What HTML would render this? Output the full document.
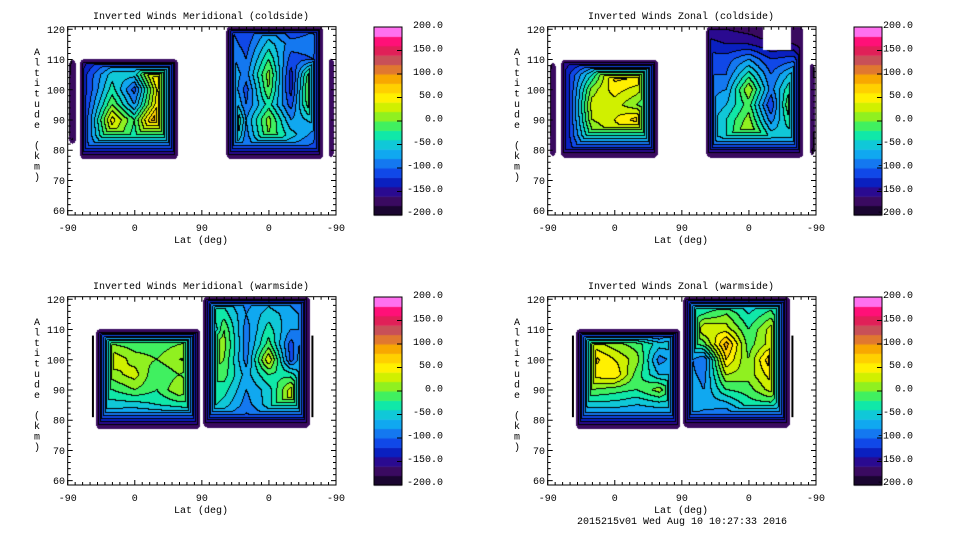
<!DOCTYPE html>
<html><head><meta charset="utf-8"><style>
html,body{margin:0;padding:0;background:#fff;}
#wrap{position:relative;width:960px;height:540px;overflow:hidden;}
canvas,svg{position:absolute;left:0;top:0;}
text{font-family:"Liberation Mono","DejaVu Sans Mono",monospace;fill:#000;}
</style></head><body>
<div id="wrap">
<canvas id="cv" width="960" height="540"></canvas>
<svg id="sv" width="960" height="540"></svg>
</div>
<script>
// ---- data ----
const titles = ["Inverted Winds Meridional (coldside)","Inverted Winds Zonal (coldside)","Inverted Winds Meridional (warmside)","Inverted Winds Zonal (warmside)"];
const gridLon = [0,30,60,90,120,150,180,210,240,270,300,330,360];
const gridAlt = [80,85,90,95,100,105,110,115,120];
const xTickLabels = ["-90","0","90","0","-90"];
const yTickLabels = ["120","110","100","90","80","70","60"];
const yTickValues = [120,110,100,90,80,70,60];
const cbLabels = ["200.0","150.0","100.0","50.0","0.0","-50.0","-100.0","-150.0","-200.0"];
const levels = [-200,-180,-160,-140,-120,-100,-80,-60,-40,-20,0,20,40,60,80,100,120,140,160,180,200];
const windColdMerid = [
[-140,-100,-70,-70,-60,-80,-90,-60,-100,-70,-100,-110,-180],
[-190,-90,20,-30,60,-10,-40,50,-90,0,-50,-90,-190],
[-190,-90,50,-20,110,0,-40,90,-80,10,-80,-50,-190],
[-190,-100,0,-80,50,10,-40,0,-100,-30,-110,20,-190],
[-190,-110,-30,-110,40,20,-40,-30,-110,0,-130,40,-190],
[-190,-110,-50,-50,70,-20,-50,-50,-90,10,-130,20,-190],
[-190,-140,-110,-110,-100,-90,-70,-60,-100,-20,-110,-100,-190],
[-190,-150,-150,-150,-150,-150,-90,-80,-110,-50,-90,-90,-190],
[-190,-150,-150,-150,-150,-150,-110,-90,-120,-80,-120,-100,-190]];
const windColdZonal = [
[-160,-130,-70,-40,-60,-60,-110,-110,-110,-70,-100,-110,-190],
[-190,-120,-10,30,10,-20,-40,-80,-40,30,-50,-50,-190],
[-190,-120,20,40,70,-20,40,-80,-40,10,-90,-10,-190],
[-190,-120,30,30,0,-50,30,-90,-60,-10,-120,30,-190],
[-190,-120,10,50,30,-10,40,-90,-80,20,-90,-10,-190],
[-190,-120,-40,70,70,50,-50,-100,-100,-30,-100,-50,-190],
[-190,-150,-140,-130,-130,-130,-110,-110,-110,-80,-120,-110,-190],
[-190,-180,-180,-180,-180,-180,-150,-130,-140,-140,-160,-160,-190],
[-190,-180,-180,-180,-180,-180,-150,-150,-160,-170,-180,-170,-190]];
const windWarmMerid = [
[-150,-110,-90,-100,-100,-100,-90,-90,-110,-90,-110,-110,-150],
[-150,-50,-50,-50,-40,-30,-20,-50,-90,-50,30,-90,-150],
[-150,-10,-20,0,-20,20,-20,-30,-80,-50,30,-110,-150],
[-150,30,10,30,-20,0,-20,-10,-70,-20,-30,-110,-150],
[-150,70,40,10,0,20,30,0,-90,40,-110,-10,-150],
[-150,30,0,-10,-10,0,30,10,-90,-10,-110,-30,-150],
[-150,-140,-140,-140,-140,-140,-140,0,-90,-30,-80,-80,-150],
[-150,-150,-150,-150,-150,-150,-20,-30,-80,-50,-70,-100,-150],
[-150,-150,-150,-150,-150,-150,-50,-50,-90,-70,-90,-120,-150]];
const windWarmZonal = [
[-150,-110,-100,-100,-100,-100,-90,-100,-110,-90,-100,-110,-150],
[-150,-60,-50,-50,-60,-50,-50,-70,-70,-30,-30,-100,-150],
[-150,10,0,-10,-20,10,-50,-80,-20,-10,30,-100,-150],
[-150,70,50,60,-10,-60,-60,-90,20,10,50,-100,-150],
[-150,120,70,40,10,-90,-60,-100,60,0,80,-100,-150],
[-150,40,30,10,-10,-50,-50,-10,90,-10,30,-90,-150],
[-150,-140,-140,-140,-140,-140,-40,40,30,-20,30,-90,-150],
[-150,-150,-150,-150,-150,-150,-50,-20,0,-40,-10,-90,-150],
[-150,-150,-150,-150,-150,-150,-60,-50,-50,-60,-50,-90,-150]];
const fields = [windColdMerid, windColdZonal, windWarmMerid, windWarmZonal];
const coverage = [
 [[2,11,82,110],[16.5,148,77,110.2],[213,343,77,121],[350,357,77.5,110.5]],
 [[3,11,78,109],[18,148,77.5,110],[213,343,77.5,121],[352,358,78,109]],
 [[38,178,77,110.2],[182,325,77.5,121]],
 [[38,178,77,110.2],[182,325,77.5,121]]];
const gaps = [[],[[289,327,113,121]],[],[]];
const colors = ["#1a0530","#3a0a60","#2a0a90","#0a20c0","#1048e8","#1478f0","#10a8f0","#10c8d8","#10e8a8","#40f060","#90f020","#d0f000","#fff000","#ffd000","#f8a800","#e07830","#c85058","#e02058","#ff1078","#ff70f0"];

// ---- geometry ----
const origins=[[0,0],[480,0],[0,270],[480,270]];
const PX0=67.7, PX1=336, PY0=26.7, PY1=215;
function xs(p){return PX0+p*(PX1-PX0)/360;}
function ys(a){return 29.3+(120-a)*3.023;}
function pInv(x){return (x-PX0)*360/(PX1-PX0);}
function aInv(y){return 120-(y-29.3)/3.023;}
function interp(g,p,a){
  let i=Math.max(0,Math.min(gridLon.length-2,Math.floor((p-gridLon[0])/(gridLon[1]-gridLon[0]))));
  let j=Math.max(0,Math.min(gridAlt.length-2,Math.floor((a-gridAlt[0])/(gridAlt[1]-gridAlt[0]))));
  let tx=(p-gridLon[i])/(gridLon[i+1]-gridLon[i]); tx=Math.max(0,Math.min(1,tx));
  let ty=(a-gridAlt[j])/(gridAlt[j+1]-gridAlt[j]); ty=Math.max(0,Math.min(1,ty));
  return g[j][i]*(1-tx)*(1-ty)+g[j][i+1]*tx*(1-ty)+g[j+1][i]*(1-tx)*ty+g[j+1][i+1]*tx*ty;
}
function ramp(d,w,s){return d<w?-170:-170+(d-w)*s;}
const cv=document.getElementById('cv'),ctx=cv.getContext('2d');
const img=ctx.createImageData(960,540),D=img.data;
for(let k=0;k<D.length;k+=4){D[k]=D[k+1]=D[k+2]=255;D[k+3]=255;}
function hex(c){return [parseInt(c.substr(1,2),16),parseInt(c.substr(3,2),16),parseInt(c.substr(5,2),16)];}
const rgb=colors.map(hex);
for(let n=0;n<4;n++){
  const [ox,oy]=origins[n];
  const x0=Math.ceil(PX0),x1=Math.floor(PX1),y0=Math.ceil(PY0),y1=Math.floor(PY1);
  const W=x1-x0+1,H=y1-y0+1;const band=new Int8Array(W*H).fill(-1);
  for(let yy=0;yy<H;yy++){for(let xx=0;xx<W;xx++){
    const x=x0+xx+0.5,y=y0+yy+0.5,p=pInv(x),a=aInv(y);
    let lim=null;
    for(const r of coverage[n]){
      if(p>=r[0]&&p<=r[1]&&a>=r[2]&&a<=r[3]){
        const dl=x-xs(r[0]),dr=xs(r[1])-x,dt=y-ys(r[3]),db=ys(r[2])-y;
        const cxd=Math.min(dl,dr),cyd=Math.min(dt,db),R=5;
        if(cxd<R&&cyd<R&&Math.hypot(R-cxd,R-cyd)>R)continue;
        const L=Math.min(ramp(dl,2,12),ramp(dr,2,12),ramp(dt,3,14),ramp(db,3,7));
        lim=lim===null?L:Math.max(lim,L);
      }
    }
    for(const r of gaps[n]){if(p>=r[0]&&p<=r[1]&&a>=r[2]&&a<=r[3])lim=null;}
    if(lim===null)continue;
    let v=Math.min(interp(fields[n],p,a),lim);
    let b=Math.floor((v-levels[0])/20);b=Math.max(0,Math.min(19,b));
    band[yy*W+xx]=b;
  }}
  for(let yy=0;yy<H;yy++){for(let xx=0;xx<W;xx++){
    const b=band[yy*W+xx];if(b<0)continue;
    let c=rgb[b];
    const r=xx<W-1?band[yy*W+xx+1]:b, dn=yy<H-1?band[(yy+1)*W+xx]:b;
    if((r>=0&&r!==b)||(dn>=0&&dn!==b))c=[0,0,0];
    const k=((oy+y0+yy)*960+(ox+x0+xx))*4;D[k]=c[0];D[k+1]=c[1];D[k+2]=c[2];
  }}
}
ctx.putImageData(img,0,0);
for(let n=0;n<4;n++){
  const [ox,oy]=origins[n];const cx=ox+374,cw=28,top=oy+27,bot=oy+215,bh=(bot-top)/20;
  for(let i=0;i<20;i++){ctx.fillStyle=colors[i];ctx.fillRect(cx,bot-(i+1)*bh,cw,bh+0.5);}
}
// ---- svg overlay ----
const sv=document.getElementById('sv');const NS='http://www.w3.org/2000/svg';
function el(t,at,parent){const e=document.createElementNS(NS,t);for(const k in at)e.setAttribute(k,at[k]);(parent||sv).appendChild(e);return e;}
const names=['meridional-coldside','zonal-coldside','meridional-warmside','zonal-warmside'];
for(let n=0;n<4;n++){
  const [ox,oy]=origins[n];
  const g=el('g',{transform:`translate(${ox},${oy})`});
  
  
  if(n>=2){
    el('rect',{x:xs(32.5),y:ys(108),width:2,height:ys(81)-ys(108),fill:'#000'},g);
    el('rect',{x:xs(327),y:ys(108),width:2,height:ys(81)-ys(108),fill:'#000'},g);
  }
  const fr=el('rect',{x:PX0,y:PY0,width:PX1-PX0,height:PY1-PY0,fill:'none',stroke:'#000','stroke-width':1},g);
  
  
  let tk='';
  for(let p=0;p<=360;p+=10){const x=xs(p),L=(p%90===0)?5:3;tk+=`M${x},${PY1}v${-L}M${x},${PY0}v${L}`;}
  for(let a=60;a<=120;a+=2){const y=ys(a),L=(a%10===0)?5:3;tk+=`M${PX0},${y}h${L}M${PX1},${y}h${-L}`;}
  el('path',{d:tk,stroke:'#000','stroke-width':1,fill:'none'},g);
  const t=el('text',{x:201,y:19,'text-anchor':'middle','font-size':'10'},g);t.textContent=titles[n];
  
  
  xTickLabels.forEach((s,i)=>{const e=el('text',{x:xs(i*90),y:231,'text-anchor':'middle','font-size':'10'},g);e.textContent=s;
    
    });
  yTickLabels.forEach((s,i)=>{const e=el('text',{x:65,y:ys(yTickValues[i])+3.5,'text-anchor':'end','font-size':'10'},g);e.textContent=s;
    
    });
  const xl=el('text',{x:201,y:243,'text-anchor':'middle','font-size':'10'},g);xl.textContent='Lat (deg)';
  
  
  const yl=el('g',{},g);
  
  
  'Altitude (km)'.split('').forEach((c,i)=>{const e=el('text',{x:37,y:55+i*10.4,'text-anchor':'middle','font-size':'10'},yl);e.textContent=c;});
  const cb=el('rect',{x:374,y:27,width:28,height:188,fill:'none',stroke:'#000'},g);
  
  
  let ct='';for(let i=1;i<8;i++){const y=27+i*188/8;ct+=`M402,${y}h-5`;}
  el('path',{d:ct,stroke:'#000',fill:'none'},g);
  cbLabels.forEach((s,i)=>{const e=el('text',{x:(n%2?433:443),y:28+i*23.4,'text-anchor':'end','font-size':'10'},g);e.textContent=s;
    
    });
}
const ft=el('text',{x:682,y:524,'text-anchor':'middle','font-size':'10'});ft.textContent='2015215v01 Wed Aug 10 10:27:33 2016';


</script>
</body></html>
